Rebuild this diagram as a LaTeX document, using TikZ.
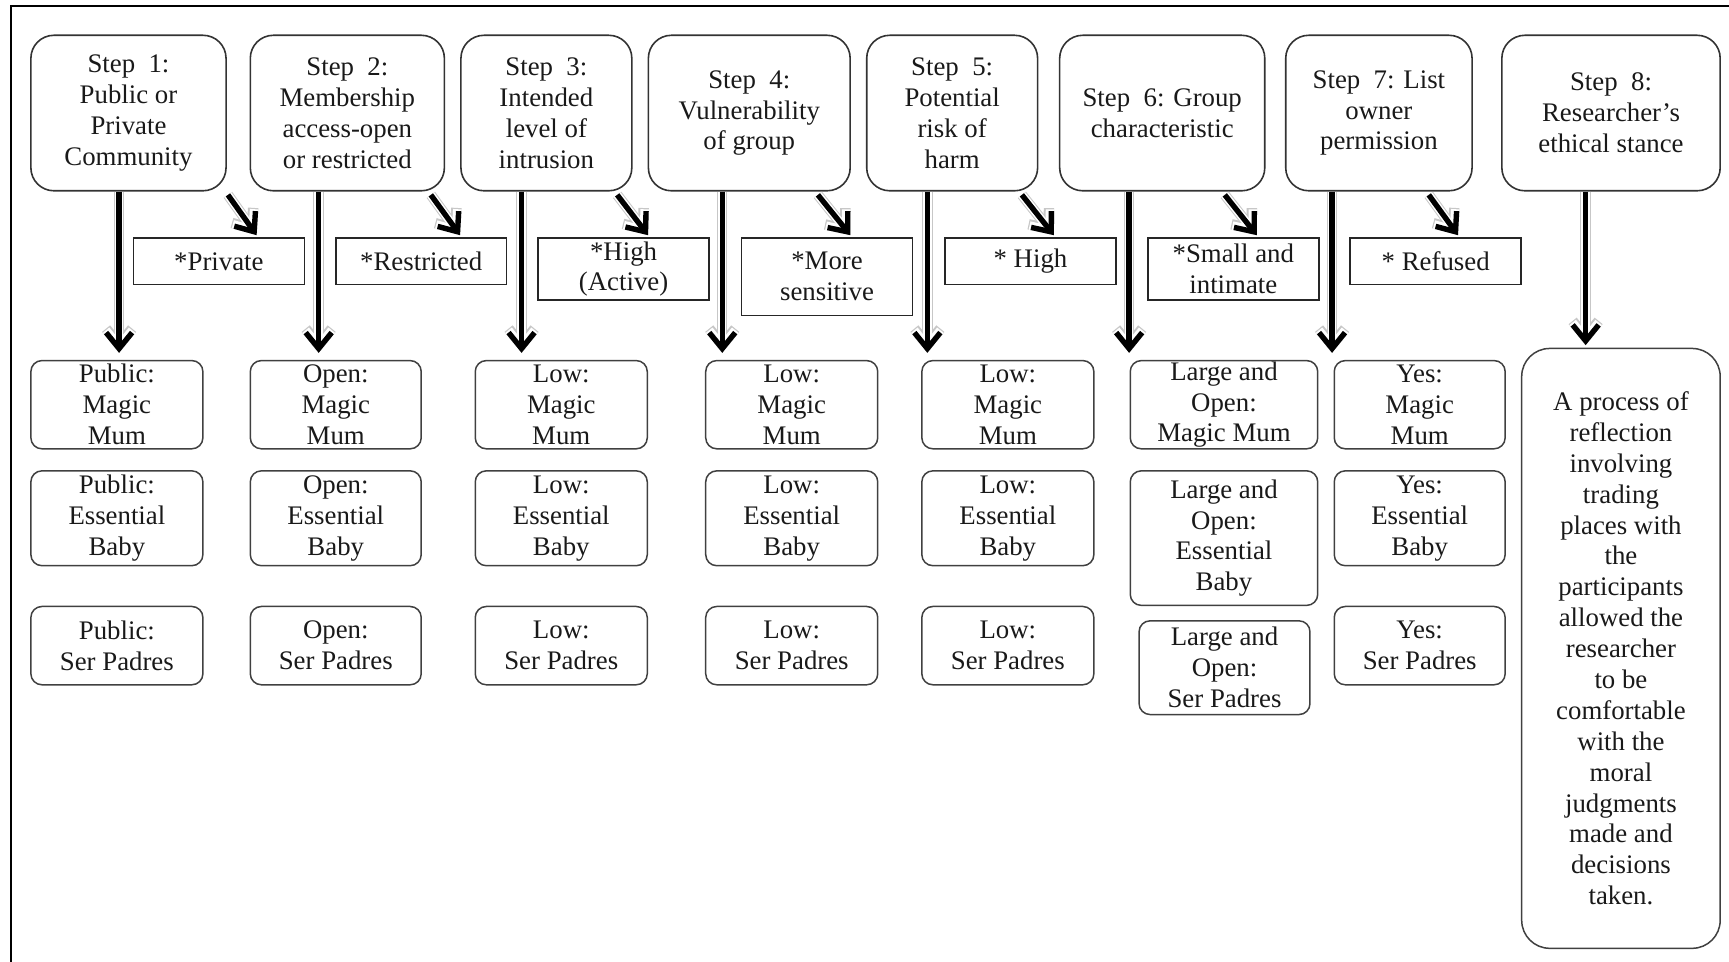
\documentclass[tikz,border=0pt]{standalone}
\usepackage{fontspec}
\setmainfont{Liberation Serif}
\usetikzlibrary{arrows.meta,calc}
\newcommand{\pxu}{0.5513pt}
\begin{document}
\begin{tikzpicture}[x=0.5513pt,y=-0.5513pt,
  every node/.style={font=\fontsize{13.4}{15.44}\selectfont, text=black!90, align=center, inner sep=0pt},
  stepbox/.style={draw=black!80, line width=0.8pt, rounded corners=11.5pt, minimum height=141*\pxu},
  lbox/.style={draw=black!85, line width=0.8pt, minimum width=155*\pxu},
  rbox/.style={draw=black!75, line width=0.75pt, rounded corners=5.5pt, minimum width=156*\pxu},
  tipA/.style={-{Straight Barb[length=8pt,width=13pt]}},
  bigarrow/.style={tipA, line width=2.7pt, black,
    preaction={draw=black!22, line width=5.2pt, tipA},
    preaction={draw=white, line width=4.2pt, tipA}},
  frame/.style={line width=1pt, black}
]
\useasboundingbox (0,0) rectangle (1568,872);
\draw[frame] (10,872) -- (10,5) -- (1568,5);

% step boxes
\node[stepbox, minimum width=177*\pxu] (s1) at (116.5,102.5) {Step\ \ 1:\\Public or\\Private\\Community};
\node[stepbox, minimum width=176*\pxu] (s2) at (315,102.5) {Step\ \ 2:\\Membership\\access-open\\or restricted};
\node[stepbox, minimum width=155*\pxu] (s3) at (495.5,102.5) {Step\ \ 3:\\Intended\\level of\\intrusion};
\node[stepbox, minimum width=183*\pxu] (s4) at (679.5,102.5) {Step\ \ 4:\\Vulnerability\\of group};
\node[stepbox, minimum width=155*\pxu] (s5) at (863.5,102.5) {Step\ \ 5:\\Potential\\risk of\\harm};
\node[stepbox, minimum width=186*\pxu] (s6) at (1054,102.5) {Step\ \ 6: Group\\characteristic};
\node[stepbox, minimum width=169*\pxu] (s7) at (1250.5,102.5) {Step\ \ 7: List\\owner\\permission};
\node[stepbox, minimum width=198*\pxu] (s8) at (1461,102.5) {Step\ \ 8:\\Researcher's\\ethical stance};

% label boxes
\node[lbox, minimum height=42*\pxu] (l1) at (198.5,237) {*Private};
\node[lbox, minimum height=42*\pxu] (l2) at (382,237) {*Restricted};
\node[lbox, minimum height=56*\pxu] (l3) at (565.5,244) {*High\\(Active)};
\node[lbox, minimum height=70*\pxu] (l4) at (750,251) {*More\\sensitive};
\node[lbox, minimum height=42*\pxu] (l5) at (934.5,237) {* High};
\node[lbox, minimum height=56*\pxu] (l6) at (1118.5,244) {*Small and\\intimate};
\node[lbox, minimum height=42*\pxu] (l7) at (1302,237) {* Refused};

% result boxes
\foreach \c/\x/\w/\p in {1/106/156/Public, 2/304.5/155/Open, 3/509/156/Low, 4/718/156/Low, 5/914/156/Low, 7/1287.5/155/Yes}{
  \node[rbox, minimum width=\w*\pxu, minimum height=80*\pxu] (r\c a) at (\x,367) {\p:\\Magic\\Mum};
  \node[rbox, minimum width=\w*\pxu, minimum height=86*\pxu] (r\c b) at (\x,470) {\p:\\Essential\\Baby};
  \node[rbox, minimum width=\w*\pxu, minimum height=71*\pxu] (r\c c) at (\x,585.5) {\p:\\Ser Padres};
}
\node[rbox, minimum width=170*\pxu, minimum height=80*\pxu] (r6a) at (1110,367) {Large and\\Open:\\Magic Mum};
\node[rbox, minimum width=170*\pxu, minimum height=122*\pxu] (r6b) at (1110,488) {Large and\\Open:\\Essential\\Baby};
\node[rbox, minimum width=155*\pxu, minimum height=85*\pxu] (r6c) at (1110.5,605.5) {Large and\\Open:\\Ser Padres};
\node[rbox, rounded corners=14pt, minimum width=180*\pxu, minimum height=544*\pxu] (r8) at (1470,588) {A process of\\reflection\\involving\\trading\\places with\\the\\participants\\allowed the\\researcher\\to be\\comfortable\\with the\\moral\\judgments\\made and\\decisions\\taken.};

% vertical arrow tips
\coordinate (t1) at (108,320);
\coordinate (t2) at (289,320);
\coordinate (t3) at (473,320);
\coordinate (t4) at (655,320);
\coordinate (t5) at (841,320);
\coordinate (t6) at (1024,320);
\coordinate (t7) at (1208,320);
\coordinate (t8) at (1438,313);
\foreach \i in {1,...,8}{
  \draw[bigarrow] (s\i.south -| t\i) -- (t\i);
}

% diagonal arrows
\foreach \i/\a/\b in {1/1/-44, 2/-13/-43, 3/-14/-56, 4/-30/-57, 5/-15/-57, 6/-37/-57, 7/-40/-58}{
  \draw[bigarrow] ($(s\i.south east)+(\a,3)$) -- ($(l\i.north east)+(\b,-2)$);
}
\end{tikzpicture}
\end{document}
